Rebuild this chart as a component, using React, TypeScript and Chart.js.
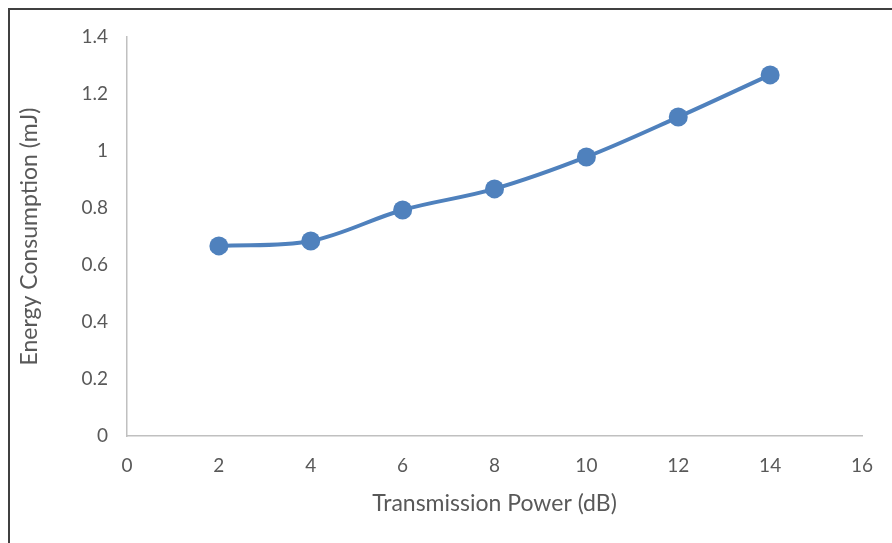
import React, { useEffect, useRef } from "react";
import { Chart, registerables } from "chart.js";

Chart.register(...registerables);

const powerDb = [2, 4, 6, 8, 10, 12, 14];
const energyMj = [0.667, 0.684, 0.793, 0.867, 0.979, 1.119, 1.267];
const xTitle = "Transmission Power (dB)";
const yTitle = "Energy Consumption (mJ)";

const FONT = "Lato, 'Open Sans', sans-serif";
const TEXT = "#595959";
const AXIS = "#c0c0c0";
const BLUE = "#4f81bd";

export default function App() {
  const ref = useRef<HTMLCanvasElement | null>(null);
  useEffect(() => {
    if (!ref.current) return;
    const chart = new Chart(ref.current, {
      type: "line",
      data: {
        datasets: [
          {
            data: powerDb.map((x, i) => ({ x, y: energyMj[i] })),
            borderColor: BLUE,
            backgroundColor: BLUE,
            borderWidth: 4,
            pointRadius: 9.5,
            pointHoverRadius: 9.5,
            pointBorderWidth: 0,
            tension: 0.35,
          },
        ],
      },
      options: {
        animation: false,
        responsive: false,
        maintainAspectRatio: false,
        layout: { padding: { left: 0, right: 30, top: 37, bottom: 0 } },
        plugins: { legend: { display: false }, tooltip: { enabled: false } },
        scales: {
          x: {
            type: "linear",
            min: 0,
            max: 16,
            afterFit: (s: any) => {
              s.height = 107;
            },
            ticks: { stepSize: 2, color: TEXT, font: { family: FONT, size: 19 }, padding: 18, maxRotation: 0 },
            grid: { display: false, drawTicks: false },
            border: { display: true, color: AXIS, width: 1.5 },
            title: {
              display: true,
              text: xTitle,
              color: TEXT,
              font: { family: FONT, size: 23 },
              padding: { top: 0, bottom: 26 },
            },
          },
          y: {
            type: "linear",
            min: 0,
            max: 1.4,
            afterFit: (s: any) => {
              s.width = 127;
            },
            ticks: {
              stepSize: 0.2,
              color: TEXT,
              font: { family: FONT, size: 19 },
              padding: 19,
              callback: (v: any) => String(Math.round(Number(v) * 10) / 10),
            },
            grid: { display: false, drawTicks: false },
            border: { display: true, color: AXIS, width: 1.5 },
            title: {
              display: true,
              text: yTitle,
              color: TEXT,
              font: { family: FONT, size: 23 },
              padding: { top: 16, bottom: 0 },
            },
          },
        },
      },
    });
    return () => chart.destroy();
  }, []);
  return (
    <div style={{ position: "fixed", left: 0, top: 0, width: 892, height: 543, background: "#fff" }}>
      <div
        style={{
          position: "absolute",
          left: 8,
          top: 8,
          width: 900,
          height: 600,
          borderLeft: "2px solid #404040",
          borderTop: "2px solid #404040",
          boxSizing: "border-box",
        }}
      />
      <canvas ref={ref} width={892} height={543} style={{ position: "absolute", left: 0, top: 0 }} />
    </div>
  );
}
